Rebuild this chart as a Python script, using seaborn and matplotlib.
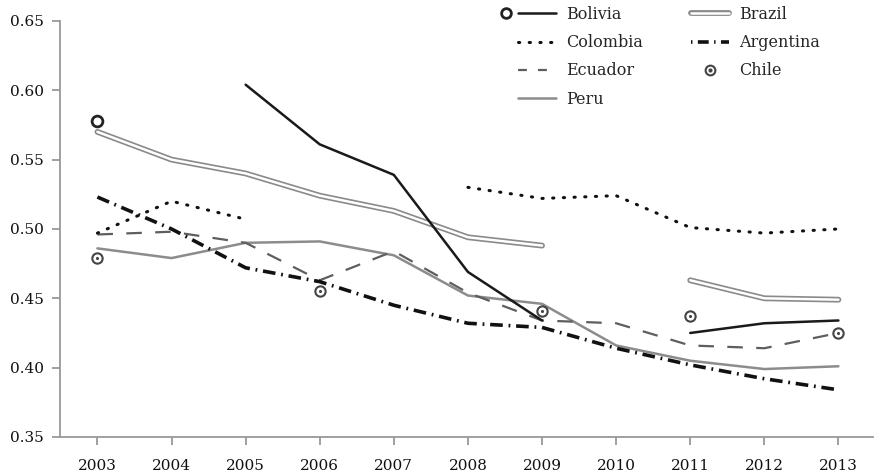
import numpy as np
import pandas as pd
import seaborn as sns
import matplotlib.pyplot as plt
from matplotlib.lines import Line2D
from matplotlib.legend_handler import HandlerTuple, HandlerLine2D

nan = np.nan
years = list(range(2003, 2014))

# Gini values (gaps = missing years)
bolivia = [0.578, nan, 0.604, 0.561, 0.539, 0.469, 0.434, nan, 0.425, 0.432, 0.434]
brazil = [0.570, 0.550, 0.540, 0.524, 0.513, 0.494, 0.488, nan, 0.463, 0.450, 0.449]
colombia = [0.497, 0.520, 0.507, nan, nan, 0.530, 0.522, 0.524, 0.501, 0.497, 0.500]
argentina = [0.523, 0.500, 0.472, 0.462, 0.445, 0.432, 0.429, 0.414, 0.402, 0.392, 0.384]
ecuador = [0.496, 0.498, 0.490, 0.463, 0.484, 0.454, 0.434, 0.432, 0.416, 0.414, 0.425]
peru = [0.486, 0.479, 0.490, 0.491, 0.481, 0.452, 0.446, 0.416, 0.405, 0.399, 0.401]
chile = [0.479, nan, nan, 0.455, nan, nan, 0.441, nan, 0.437, nan, 0.425]

yticks = [0.35, 0.40, 0.45, 0.50, 0.55, 0.60, 0.65]

sns.set_style('white')
plt.rcParams['font.family'] = 'DejaVu Serif'

fig, ax = plt.subplots(figsize=(8.75, 4.75), dpi=100)
fig.subplots_adjust(left=0.069, right=0.998, bottom=0.08, top=0.956)


def split(values):
    # runs of non-missing values -> segments; single points drawn as markers
    df = pd.DataFrame({'year': years, 'gini': values})
    df['seg'] = df['gini'].isna().cumsum()
    df = df.dropna()
    size = df.groupby('seg')['gini'].transform('size')
    return df[size > 1], df[size == 1]


def draw(values, **kws):
    lines, single = split(values)
    sns.lineplot(data=lines, x='year', y='gini', units='seg', estimator=None,
                 ax=ax, legend=False, **kws)
    return single


# Brazil: double line (grey outline, white core)
draw(brazil, color='#8a8a8a', linewidth=4.2, solid_capstyle='round')
draw(brazil, color='white', linewidth=1.8, solid_capstyle='round')
draw(peru, color='#8c8c8c', linewidth=1.8)
draw(ecuador, color='#5e5e5e', linewidth=1.6, linestyle=(0, (7, 6)))
draw(argentina, color='#111111', linewidth=2.6, linestyle=(0, (3.5, 1.6, 0.5, 1.6)))
draw(colombia, color='#111111', linewidth=2.2, linestyle=(0, (0.4, 3.1)),
     dash_capstyle='round')
bol_single = draw(bolivia, color='#1a1a1a', linewidth=1.8)

sns.scatterplot(data=bol_single, x='year', y='gini', marker='o', s=60,
                facecolor='white', edgecolor='#222222', linewidth=2, ax=ax, zorder=5)

chile_df = pd.DataFrame({'year': years, 'gini': chile}).dropna()
sns.scatterplot(data=chile_df, x='year', y='gini', marker='o', s=55,
                facecolor='white', edgecolor='#444444', linewidth=1.5, ax=ax, zorder=5)
sns.scatterplot(data=chile_df, x='year', y='gini', marker='o', s=5,
                color='#444444', linewidth=0, ax=ax, zorder=6)

ax.set_xlim(2002.5, 2013.47)
ax.set_ylim(0.35, 0.65)
ax.set_xticks(years)
ax.set_xticklabels([str(y) for y in years])
ax.set_yticks(yticks)
ax.set_yticklabels(['%.2f' % v for v in yticks])
ax.set_xlabel('')
ax.set_ylabel('')
for s in ['top', 'right']:
    ax.spines[s].set_visible(False)
for s in ['left', 'bottom']:
    ax.spines[s].set_color('#999999')
    ax.spines[s].set_linewidth(1.3)
ax.tick_params(left=True, bottom=True, direction='out', length=6, width=1.3,
               color='#999999', labelsize=11, labelcolor='#111111')
ax.tick_params(axis='y', pad=6)
ax.tick_params(axis='x', pad=10)


class MarkerLeftHandler(HandlerLine2D):
    # circle sits left of a full-length line
    def create_artists(self, legend, orig_handle, xdescent, ydescent, width,
                       height, fontsize, trans):
        marker, line = orig_handle
        arts = HandlerLine2D().create_artists(legend, line, xdescent, ydescent,
                                              width, height, fontsize, trans)
        shift = width / 2 + 0.75 * fontsize
        arts += HandlerLine2D().create_artists(legend, marker, xdescent + shift, ydescent,
                                               width, height, fontsize, trans)
        return arts


# legend
h_bol = (Line2D([], [], ls='', marker='o', ms=7, mfc='white', mec='#222222', mew=2),
         Line2D([], [], color='#1a1a1a', lw=1.8))
h_col = Line2D([], [], color='#111111', lw=2.2, ls=(0, (0.4, 3.1)), dash_capstyle='round')
h_ecu = Line2D([], [], color='#5e5e5e', lw=1.6, ls=(0, (4, 5)))
h_per = Line2D([], [], color='#8c8c8c', lw=1.8)
h_bra = (Line2D([], [], color='#8a8a8a', lw=4.2, solid_capstyle='round'),
         Line2D([], [], color='white', lw=1.8, solid_capstyle='round'))
h_arg = Line2D([], [], color='#111111', lw=2.6, ls=(0, (0.4, 1.5, 3, 1.5)))
h_chi = (Line2D([], [], ls='', marker='o', ms=7, mfc='white', mec='#444444', mew=1.5),
         Line2D([], [], ls='', marker='o', ms=2, color='#444444'))

handles = [h_bol, h_col, h_ecu, h_per, h_bra, h_arg, h_chi]
labels = ['Bolivia', 'Colombia', 'Ecuador', 'Peru', 'Brazil', 'Argentina', 'Chile']
ax.legend(handles, labels, ncol=2, frameon=False, fontsize=11.5,
          loc='upper left', bbox_to_anchor=(0.583, 1.004), bbox_transform=fig.transFigure,
          handlelength=2.4, handletextpad=0.6, columnspacing=3.0, labelspacing=0.7,
          borderpad=0,
          handler_map={tuple: HandlerTuple(ndivide=1), h_bol: MarkerLeftHandler()})

plt.savefig('out.png', dpi=100)
